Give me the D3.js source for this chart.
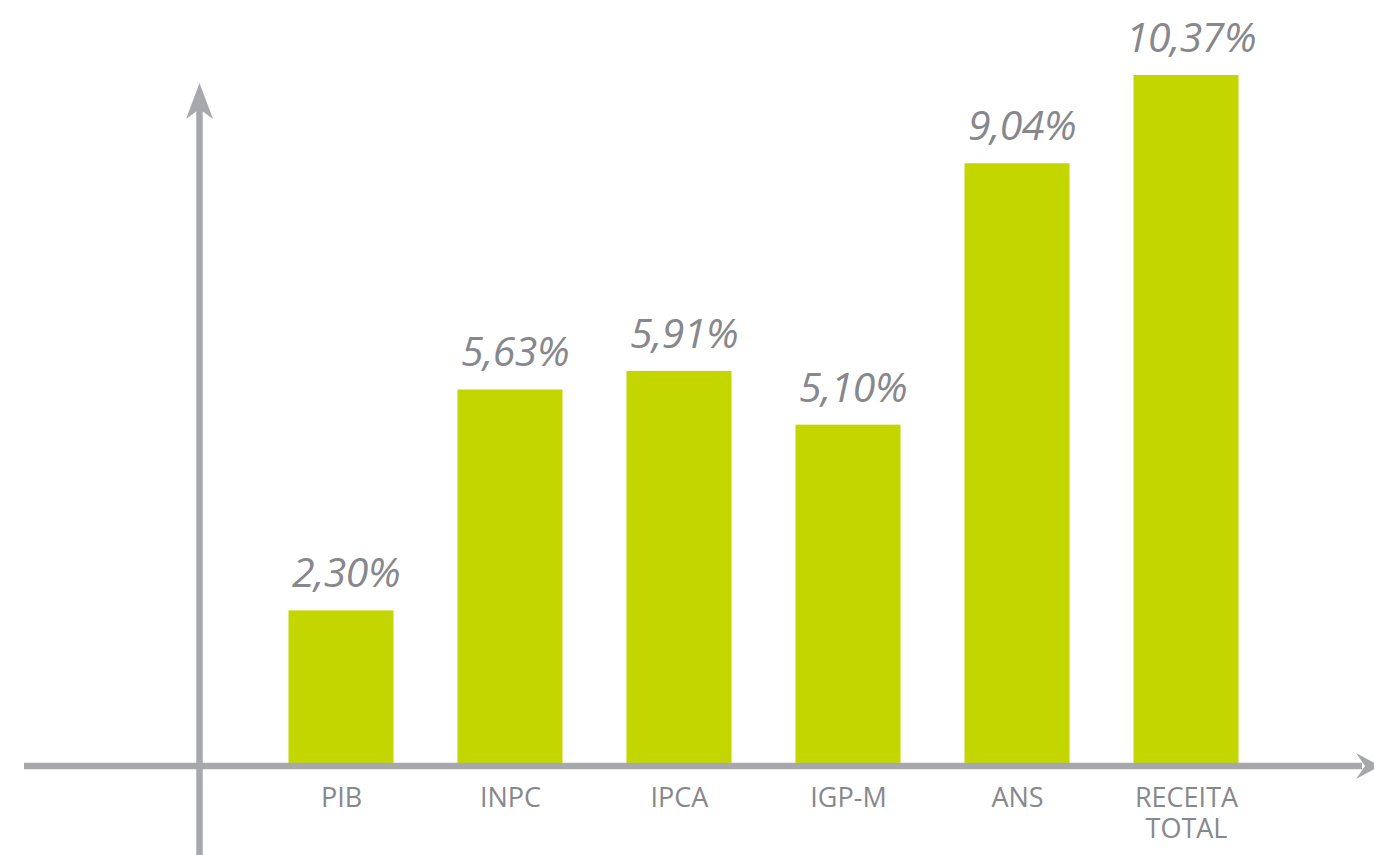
<!DOCTYPE html>
<html>
<head>
<meta charset="utf-8">
<script src="https://cdn.jsdelivr.net/npm/d3@7"></script>
<style>
  body { margin: 0; background: #fff; }
  svg { display: block; }
</style>
</head>
<body>
<div id="chart"></div>
<script>
// data
const categories = ['PIB', 'INPC', 'IPCA', 'IGP-M', 'ANS', 'RECEITA TOTAL'];
const values = [2.30, 5.63, 5.91, 5.10, 9.04, 10.37];
const valueLabels = ['2,30%', '5,63%', '5,91%', '5,10%', '9,04%', '10,37%'];

const width = 1374;
const height = 855;
const baseline = 763;
const barWidth = 105;
const grey = '#a7a8ac';
const textGrey = '#87888c';
const green = '#c4d600';

const svg = d3.select('#chart').append('svg').attr('width', width).attr('height', height);

const xScale = d3.scalePoint().domain(categories).range([341, 1186]);
const yScale = d3.scaleLinear().domain([0, 10.37]).range([baseline, 75]);

const rows = categories.map((c, i) => ({ name: c, value: values[i], label: valueLabels[i] }));

// bars
svg.append('g').selectAll('rect').data(rows).enter().append('rect')
  .attr('x', d => xScale(d.name) - barWidth / 2)
  .attr('y', d => yScale(d.value))
  .attr('width', barWidth)
  .attr('height', d => baseline - yScale(d.value))
  .attr('fill', green);

// value labels
svg.append('g').selectAll('text').data(rows).enter().append('text')
  .attr('x', d => xScale(d.name) + 5)
  .attr('y', d => yScale(d.value) - 23)
  .attr('text-anchor', 'middle')
  .attr('font-family', '"Open Sans", sans-serif')
  .attr('font-style', 'italic')
  .attr('font-size', '41px')
  .attr('letter-spacing', '-0.5px')
  .attr('fill', textGrey)
  .text(d => d.label);

// axes lines
const axes = svg.append('g').attr('stroke', grey).attr('stroke-width', 6.5);
axes.append('line').attr('x1', 24).attr('x2', 1362).attr('y1', 766).attr('y2', 766);
axes.append('line').attr('x1', 199.5).attr('x2', 199.5).attr('y1', 855).attr('y2', 100);

// arrowheads
svg.append('path')
  .attr('d', 'M199.5,83 L213,119 L199.5,109 L186,119 Z')
  .attr('fill', grey);
svg.append('path')
  .attr('d', 'M1380,766 L1356,779 L1365,766 L1356,753 Z')
  .attr('fill', grey);

// category labels
const xAxis = svg.append('g')
  .attr('transform', `translate(0, ${baseline + 18})`)
  .call(d3.axisBottom(xScale).tickSize(0).tickPadding(0));
xAxis.select('.domain').remove();
xAxis.selectAll('text')
  .attr('font-family', '"Open Sans", sans-serif')
  .attr('font-size', '27px')
  .attr('fill', textGrey)
  .attr('dy', null)
  .attr('y', 26)
  .each(function (d) {
    const words = d.split(' ');
    const t = d3.select(this).text(null);
    words.forEach((w, i) => {
      t.append('tspan').attr('x', 0).attr('dy', i === 0 ? 0 : 31).text(w);
    });
  });
</script>
</body>
</html>
